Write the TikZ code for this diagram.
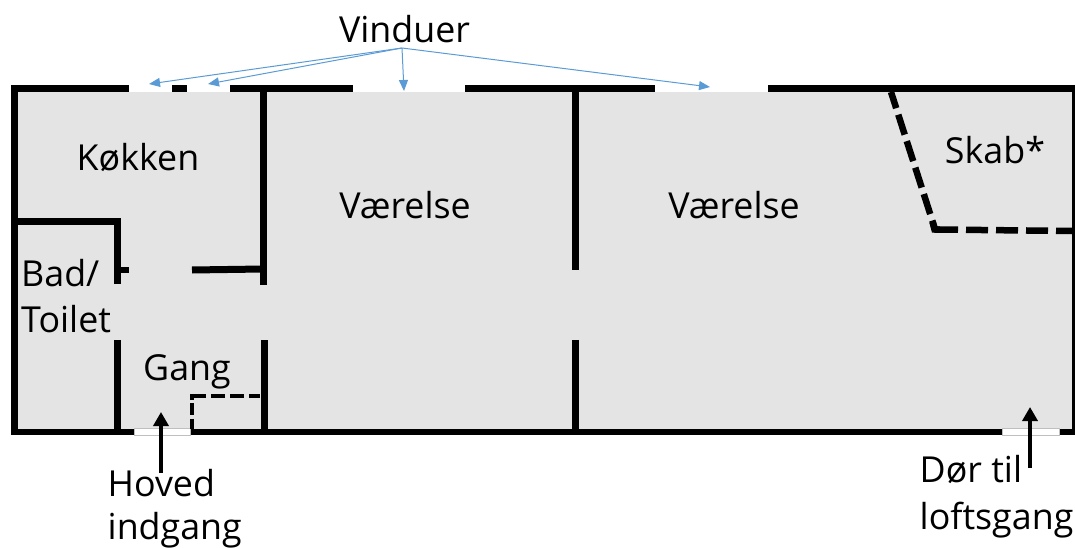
\documentclass[tikz,border=0pt]{standalone}
\usepackage{fontspec}
\setmainfont{Open Sans}
\usetikzlibrary{arrows.meta}
\definecolor{floorgray}{HTML}{E4E4E4}
\definecolor{winblue}{HTML}{5B9BD5}
\tikzset{
  x=1pt,y=-1pt,
  wall/.style={line width=7pt,black,line cap=butt},
  dashwall/.style={line width=6.5pt,black},
  thindash/.style={line width=4.5pt,black},
  lbl/.style={font=\fontsize{35.8}{36}\selectfont,anchor=base,inner sep=0pt,text=black},
  lbll/.style={lbl,anchor=base west},
  winarrow/.style={winblue,line width=1pt,-{Triangle[length=11pt,width=9pt]}},
  doorarrow/.style={black,line width=4.5pt,-{Triangle[length=14pt,width=15pt]}},
}
\begin{document}
\begin{tikzpicture}
\useasboundingbox (0,0) rectangle (1075,548);
% floor
\fill[floorgray] (11,92) rectangle (1075,432);
% outer walls
\draw[wall] (14.5,85) -- (14.5,435);
\draw[wall] (11,88.5) -- (129,88.5);
\draw[wall] (172,88.5) -- (187,88.5);
\draw[wall] (230,88.5) -- (353,88.5);
\draw[wall] (465,88.5) -- (655,88.5);
\draw[wall] (768,88.5) -- (1075,88.5);
\draw[wall,line width=6.5pt] (11,432) -- (134,432);
\draw[wall,line width=6.5pt] (190,432) -- (1002,432);
\draw[wall,line width=6.5pt] (1059,432) -- (1075,432);
\draw[line width=3pt] (1073.5,85) -- (1073.5,435);
% door gaps in the bottom wall
\filldraw[fill=white,draw=black!25,line width=0.6pt] (134,428.5) rectangle (190,434.8);
\filldraw[fill=white,draw=black!25,line width=0.6pt] (1002,428.5) rectangle (1059,434.8);
% inner walls
\draw[wall,miter limit=10] (18,221) -- (117.5,221) -- (117.5,284);
\draw[wall,line width=6pt] (121,270) -- (129,270);
\draw[wall] (192,270) -- (263,269);
\draw[wall] (263,92) -- (263,285);
\draw[wall] (117.5,340) -- (117.5,430);
\draw[wall] (264.5,340) -- (264.5,430);
\draw[wall] (575,92) -- (575,270);
\draw[wall] (575,340) -- (575,430);
% dashed partitions
\draw[thindash,dash pattern=on 14pt off 5pt,dash phase=3pt] (260,396) -- (190,396);
\draw[thindash,dash pattern=on 12pt off 3.5pt,dash phase=6.5pt] (192,394) -- (192,429);
\draw[dashwall,dash pattern=on 21pt off 6.8pt,dash phase=4pt] (891,92) -- (935,229);
\draw[dashwall] (932.5,222) -- (934.5,229.5) -- (940,229.7);
\draw[dashwall,dash pattern=on 22pt off 8pt] (936,229.5) -- (1072,231);
% labels
\node[lbl] (vinduer) at (404.5,43) {Vinduer};
\node[lbl] (kokken) at (138,170.5) {Køkken};
\node[lbl] (v1) at (405,218) {Værelse};
\node[lbl] (v2) at (734,218) {Værelse};
\node[lbl] (skab) at (995,164) {Skab*};
\node[lbll] (bad) at (21,286) {Bad/};
\node[lbll] (toilet) at (21,332) {Toilet};
\node[lbl] (gang) at (187,380) {Gang};
\node[lbll] (hoved) at (107.5,496) {Hoved};
\node[lbll] (indgang) at (107.5,539) {indgang};
\node[lbll] (dor) at (919.5,482) {Dør til};
\node[lbll] (loft) at (919.5,529) {loftsgang};
% window arrows
\coordinate (src) at (402,48);
\coordinate (w1) at (149,84);
\coordinate (w2) at (208,84);
\coordinate (w3) at (404,91);
\coordinate (w4) at (710,87);
\draw[winarrow] (src) -- (w1);
\draw[winarrow] (src) -- (w2);
\draw[winarrow] (src) -- (w3);
\draw[winarrow] (src) -- (w4);
% door arrows
\coordinate (d1a) at (161,473);
\coordinate (d1b) at (161,412);
\coordinate (d2a) at (1030,468);
\coordinate (d2b) at (1030,407);
\draw[doorarrow] (d1a) -- (d1b);
\draw[doorarrow] (d2a) -- (d2b);
\end{tikzpicture}
\end{document}
